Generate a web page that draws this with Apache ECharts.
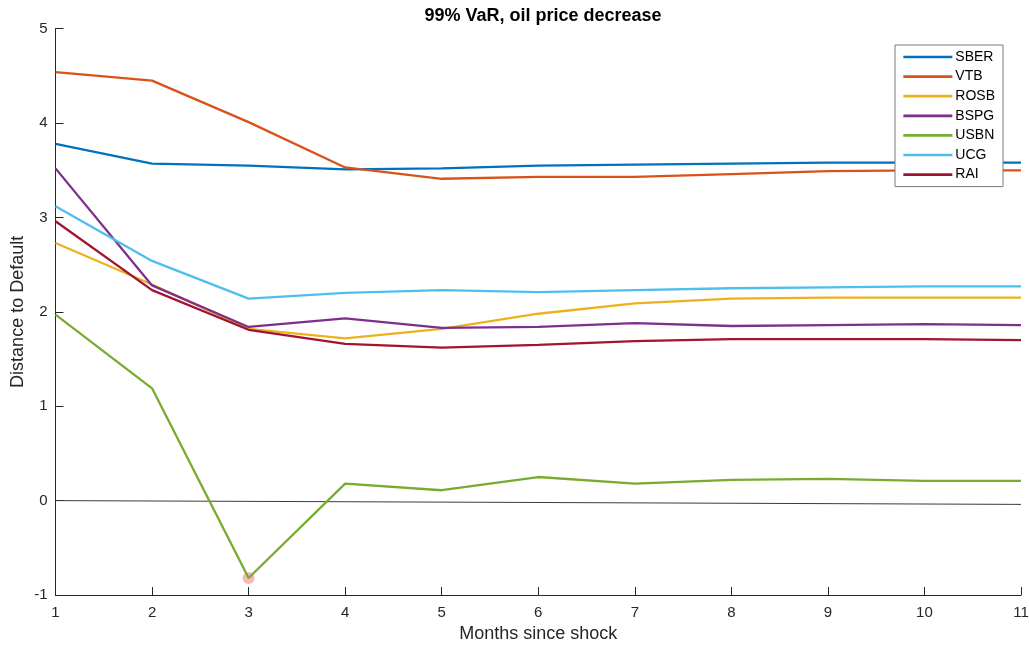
<!DOCTYPE html>
<html>
<head>
<meta charset="utf-8">
<script src="https://cdn.jsdelivr.net/npm/echarts@6/dist/echarts.min.js"></script>
<style>
  html, body { margin: 0; padding: 0; background: #fff; }
  #chart { width: 1029px; height: 645px; }
</style>
</head>
<body>
<div id="chart"></div>
<script>
// Months after the oil price shock
const months = [1, 2, 3, 4, 5, 6, 7, 8, 9, 10, 11];

// Distance to default per bank, 99% VaR scenario
const SBER = [3.78, 3.57, 3.55, 3.51, 3.52, 3.55, 3.56, 3.57, 3.58, 3.58, 3.58];
const VTB  = [4.54, 4.45, 4.01, 3.53, 3.41, 3.43, 3.43, 3.46, 3.49, 3.50, 3.50];
const ROSB = [2.73, 2.29, 1.82, 1.72, 1.82, 1.98, 2.09, 2.14, 2.15, 2.15, 2.15];
const BSPG = [3.52, 2.28, 1.84, 1.93, 1.83, 1.84, 1.88, 1.85, 1.86, 1.87, 1.86];
const USBN = [1.97, 1.19, -0.82, 0.18, 0.11, 0.25, 0.18, 0.22, 0.23, 0.21, 0.21];
const UCG  = [3.12, 2.54, 2.14, 2.20, 2.23, 2.21, 2.23, 2.25, 2.26, 2.27, 2.27];
const RAI  = [2.96, 2.23, 1.81, 1.66, 1.62, 1.65, 1.69, 1.71, 1.71, 1.71, 1.70];

// Default threshold reference line (endpoints)
const thresholdX = [1, 11];
const thresholdY = [0.00, -0.04];

// Lowest point highlighted (USBN, month 3)
const minPoint = [3, -0.82];

const yTicks = { min: -1, max: 5, interval: 1 };

const bankNames = ['SBER', 'VTB', 'ROSB', 'BSPG', 'USBN', 'UCG', 'RAI'];
const bankValues = [SBER, VTB, ROSB, BSPG, USBN, UCG, RAI];
const colors = ['#0072BD', '#D95319', '#EDB120', '#7E2F8E', '#77AC30', '#4DBEEE', '#A2142F'];

const font = 'Helvetica, "Liberation Sans", Arial, sans-serif';
const axisColor = '#262626';

const pairs = (xs, ys) => xs.map((x, i) => [x, ys[i]]);

const series = [];
series.push({
  name: 'threshold',
  type: 'line',
  data: pairs(thresholdX, thresholdY),
  symbol: 'none',
  lineStyle: { color: '#3a3a3a', width: 1 },
  silent: true,
  z: 1
});
series.push({
  name: 'min',
  type: 'scatter',
  data: [minPoint],
  symbolSize: 12,
  itemStyle: { color: 'rgba(240, 90, 90, 0.55)' },
  silent: true,
  z: 1
});
bankNames.forEach((n, i) => {
  series.push({
    name: n,
    type: 'line',
    data: pairs(months, bankValues[i]),
    symbol: 'none',
    color: colors[i],
    itemStyle: { color: colors[i] },
    lineStyle: { color: colors[i], width: 2.3 },
    z: 3
  });
});

const chart = echarts.init(document.getElementById('chart'), null, { renderer: 'canvas' });
chart.setOption({
  animation: false,
  backgroundColor: '#fff',
  title: {
    text: '99% VaR, oil price decrease',
    left: 538,
    top: 2,
    textAlign: 'center',
    textStyle: { fontFamily: font, fontSize: 18, fontWeight: 'bold', color: '#000' }
  },
  legend: {
    data: bankNames,
    orient: 'vertical',
    left: 895,
    top: 45,
    padding: [5, 8, 5, 7],
    itemWidth: 49,
    itemHeight: 14,
    itemGap: 5.6,
    backgroundColor: '#fff',
    borderColor: '#7a7a7a',
    borderWidth: 1,
    borderRadius: 0,
    itemStyle: { opacity: 0 },
    lineStyle: { width: 2.7, opacity: 1 },
    textStyle: { fontFamily: font, fontSize: 14, color: '#000', padding: [0, 0, 0, -2] }
  },
  grid: { left: 55.5, right: 8, top: 28.7, bottom: 50, outerBoundsMode: 'none', containLabel: false },
  xAxis: {
    type: 'value',
    min: 1,
    max: 11,
    interval: 1,
    name: 'Months since shock',
    nameLocation: 'middle',
    nameGap: 30,
    nameMoveOverlap: false,
    nameTextStyle: { fontFamily: font, fontSize: 18, color: axisColor },
    axisLine: { show: true, onZero: false, lineStyle: { color: axisColor, width: 1 } },
    axisTick: { show: true, inside: true, length: 8, lineStyle: { color: axisColor } },
    axisLabel: { fontFamily: font, fontSize: 15, color: axisColor, margin: 10 },
    splitLine: { show: false }
  },
  yAxis: {
    type: 'value',
    min: yTicks.min,
    max: yTicks.max,
    interval: yTicks.interval,
    name: 'Distance to Default',
    nameLocation: 'middle',
    nameRotate: 90,
    nameGap: 28,
    nameMoveOverlap: false,
    nameTextStyle: { fontFamily: font, fontSize: 18, color: axisColor },
    axisLine: { show: true, onZero: false, lineStyle: { color: axisColor, width: 1 } },
    axisTick: { show: true, inside: true, length: 8, lineStyle: { color: axisColor } },
    axisLabel: { fontFamily: font, fontSize: 15, color: axisColor, margin: 8 },
    splitLine: { show: false }
  },
  series: series
});
</script>
</body>
</html>
